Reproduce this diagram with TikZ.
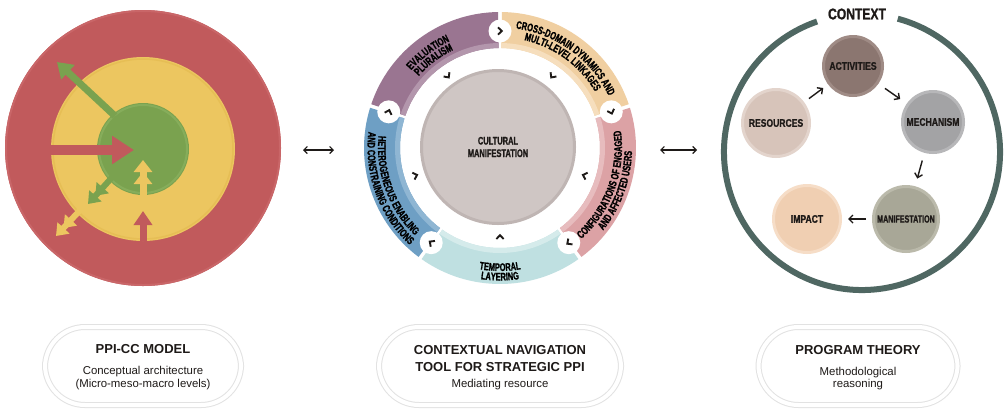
\documentclass[tikz,border=0pt]{standalone}
\usepackage{fontspec}
\setmainfont{Liberation Sans}
\newfontfamily\condf[FakeStretch=0.68,FakeBold=1.2]{Liberation Sans}
\newfontfamily\condm[FakeStretch=0.78,FakeBold=1.2]{Liberation Sans}
\usetikzlibrary{arrows.meta,decorations.text,calc}
\definecolor{redc}{HTML}{C15A5C}
\definecolor{redrim}{HTML}{C96668}
\definecolor{yelc}{HTML}{ECC660}
\definecolor{yelrim}{HTML}{E6BE55}
\definecolor{grnc}{HTML}{7AA24F}
\definecolor{grnrim}{HTML}{86AD5B}
\definecolor{purc}{HTML}{9A7591}
\definecolor{purl}{HTML}{B396AC}
\definecolor{orac}{HTML}{F0CFA1}
\definecolor{oral}{HTML}{F6DEBD}
\definecolor{pinc}{HTML}{DCA2A5}
\definecolor{pinl}{HTML}{E7BCBE}
\definecolor{teac}{HTML}{BFE0E1}
\definecolor{teal2}{HTML}{D5EBEB}
\definecolor{bluc}{HTML}{6E9FC4}
\definecolor{blul}{HTML}{8FB6D3}
\definecolor{grayc}{HTML}{CFC6C4}
\definecolor{grayr}{HTML}{BFB5B3}
\definecolor{ctxc}{HTML}{4F6762}
\definecolor{actc}{HTML}{8B7670}
\definecolor{actr}{HTML}{9F8B85}
\definecolor{mecc}{HTML}{A3A3A5}
\definecolor{mecr}{HTML}{B7B7B9}
\definecolor{manc}{HTML}{A8A797}
\definecolor{manr}{HTML}{BBBAAB}
\definecolor{impc}{HTML}{F0CFB2}
\definecolor{impr}{HTML}{F6DDC7}
\definecolor{resc}{HTML}{D7C4BA}
\definecolor{resr}{HTML}{E3D4CC}
\definecolor{inkc}{HTML}{1E1A18}
\definecolor{pillc}{HTML}{E2E2E2}
\newcommand\segfont{\condf\bfseries\fontsize{11}{12}\selectfont}
\newcommand\mysegment[4]{%
  \fill[#3] ($(C)+(#1:136)$) arc[start angle=#1,end angle=#2,radius=136]
     -- ($(C)+(#2:100)$) arc[start angle=#2,end angle=#1,radius=100] -- cycle;
  \fill[#4] ($(C)+(#1:100)$) arc[start angle=#1,end angle=#2,radius=100]
     -- ($(C)+(#2:105)$) arc[start angle=#2,end angle=#1,radius=105] -- cycle;}
\newcommand\arctext[4]{%
  \path[decorate,decoration={text along path,text align=center,text={|\segfont|#4}}]
     ($(C)+(#2:#1)$) arc[start angle=#2,end angle=#3,radius=#1];}
\begin{document}
\begin{tikzpicture}[x=1pt,y=1pt,
  chev/.pic={\draw[line width=1.9pt,inkc] (-2,3.6) -- (1.8,0) -- (-2,-3.6);},
  plab/.style={circle,line width=3pt,inner sep=0pt,text=inkc,
     font=\condm\bfseries\fontsize{11}{12}\selectfont},
  parr/.style={inkc,line width=1.4pt,-{Straight Barb[length=4pt,width=8pt]}},
  darr/.style={inkc,line width=1.2pt,{Straight Barb[length=3.5pt,width=7pt]}-{Straight Barb[length=3.5pt,width=7pt]}},
  pill/.style={rectangle,rounded corners=40pt,draw=pillc,line width=1pt,double=white,double distance=4pt},
  ttl/.style={align=center,text=inkc,font=\bfseries\fontsize{13}{16.5}\selectfont},
  sub/.style={align=center,text=inkc,font=\fontsize{11.4}{12.8}\selectfont}]
\useasboundingbox (0,0) rectangle (1004,-416);
\fill[white] (0,0) rectangle (1004,-416);

% ---------- left panel ----------
\coordinate (L) at (143,-148);
\fill[redc] (L) circle (138);
\draw[redrim,line width=2pt] (L) circle (137);
\fill[yelc] (143,-149) circle (92);
\draw[yelrim,line width=1.5pt] (143,-149) circle (90);
\fill[grnc] (143,-149) circle (46);
\draw[grnrim,line width=2pt] (143,-149) circle (44);
\coordinate (g1a) at (115,-116); \coordinate (g1b) at (57,-62);
\coordinate (r1a) at (50,-150);  \coordinate (r1b) at (134,-150);
\coordinate (g2a) at (116,-173); \coordinate (g2b) at (88,-204);
\coordinate (y2a) at (84,-206);  \coordinate (y2b) at (56,-236);
\coordinate (y3a) at (143,-196); \coordinate (y3b) at (143,-160);
\coordinate (r3a) at (143,-241); \coordinate (r3b) at (143,-211);
\draw[grnc,line width=7pt,-{Triangle[width=19pt,length=15pt]}] (g1a) -- (g1b);
\draw[redc,line width=10pt,-{Triangle[width=27pt,length=22pt]}] (r1a) -- (r1b);
\draw[grnc,line width=6pt,-{Triangle[width=16pt,length=11pt]Triangle[width=16pt,length=11pt]}] (g2a) -- (g2b);
\draw[yelc,line width=6pt,-{Triangle[width=16pt,length=11pt]Triangle[width=16pt,length=11pt]}] (y2a) -- (y2b);
\draw[yelc,line width=7pt,-{Triangle[width=18pt,length=12pt]Triangle[width=18pt,length=12pt]}] (y3a) -- (y3b);
\draw[redc,line width=7pt,-{Triangle[width=18pt,length=14pt]}] (r3a) -- (r3b);

% ---------- connectors between panels ----------
\coordinate (d1a) at (303,-150); \coordinate (d1b) at (334,-150);
\coordinate (d2a) at (660,-150); \coordinate (d2b) at (697,-150);
\draw[darr] (d1a) -- (d1b);
\draw[darr] (d2a) -- (d2b);

% ---------- middle panel ----------
\coordinate (C) at (500,-148);
\mysegment{90.8}{161.2}{purc}{purl}
\mysegment{18.8}{89.2}{orac}{oral}
\mysegment{-53.2}{17.2}{pinc}{pinl}
\mysegment{-125.2}{-54.8}{teac}{teal2}
\mysegment{162.8}{233.2}{bluc}{blul}
\foreach \a in {90,18,-54,-126,162}{
  \fill[white] ($(C)+(\a:117)$) circle (11.5);
  \pic[rotate=\a-90] at ($(C)+(\a:117)$) {chev};
}
\foreach \a in {126,54,-18,-90,198}{
  \pic[rotate=\a+180] at ($(C)+(\a:89)$) {chev};
}
\arctext{118}{160}{94}{EVALUATION}
\arctext{108.5}{160}{94}{PLURALISM}
\arctext{120.5}{90}{18}{CROSS-DOMAIN DYNAMICS AND}
\arctext{110.5}{90}{18}{MULTI-LEVEL LINKAGES}
\arctext{122}{-62}{22}{CONFIGURATIONS OF ENGAGED}
\arctext{132}{-62}{22}{AND AFFECTED USERS}
\arctext{123}{-115}{-65}{TEMPORAL}
\arctext{132.5}{-115}{-65}{LAYERING}
\arctext{122}{158}{242}{HETEROGENEOUS ENABLING}
\arctext{132.5}{156}{244}{AND CONSTRAINING CONDITIONS}
\node[circle,minimum size=153,fill=grayc,draw=grayr,line width=3pt,align=center,text=inkc,
  font=\condf\bfseries\fontsize{11}{12.5}\selectfont] (cult) at (498,-147) {CULTURAL\\MANIFESTATION};

% ---------- right panel ----------
\coordinate (K) at (862,-152);
\draw[ctxc,line width=6pt] ($(K)+(109:138)$) arc[start angle=109,end angle=435,radius=138];
\node[text=inkc,font=\condm\bfseries\fontsize{15.5}{16}\selectfont] (ctx) at (857,-14) {CONTEXT};
\node[plab,fill=actc,draw=actr,minimum size=59] (act) at (853,-66) {ACTIVITIES};
\node[plab,fill=mecc,draw=mecr,minimum size=61] (mech) at (933,-122) {MECHANISM};
\node[plab,fill=manc,draw=manr,minimum size=65,font=\condf\bfseries\fontsize{10.5}{12}\selectfont] (man) at (906,-219) {MANIFESTATION};
\node[plab,fill=impc,draw=impr,minimum size=67] (imp) at (807,-219) {IMPACT};
\node[plab,fill=resc,draw=resr,minimum size=67] (res) at (776,-123) {RESOURCES};
\draw[parr,shorten <=6pt,shorten >=6pt] (res) -- (act);
\draw[parr,shorten <=8pt,shorten >=8pt] (act) -- (mech);
\draw[parr,shorten <=8pt,shorten >=8pt] (mech) -- (man);
\draw[parr,shorten <=6pt,shorten >=6pt] (man) -- (imp);

% ---------- bottom labels ----------
\node[pill,minimum width=196,minimum height=78] (p1) at (143,-366) {};
\node[pill,minimum width=242,minimum height=78] (p2) at (500,-366) {};
\node[pill,minimum width=199,minimum height=78] (p3) at (858,-366) {};
\node[ttl] (t1) at (143,-349) {PPI-CC MODEL};
\node[sub] (s1) at (143,-378) {Conceptual architecture\\(Micro-meso-macro levels)};
\node[ttl] (t2) at (500,-358.5) {CONTEXTUAL NAVIGATION\\TOOL FOR STRATEGIC PPI};
\node[sub] (s2) at (500,-385) {Mediating resource};
\node[ttl] (t3) at (858,-350) {PROGRAM THEORY};
\node[sub] (s3) at (858,-378.5) {Methodological\\reasoning};
\end{tikzpicture}
\end{document}
